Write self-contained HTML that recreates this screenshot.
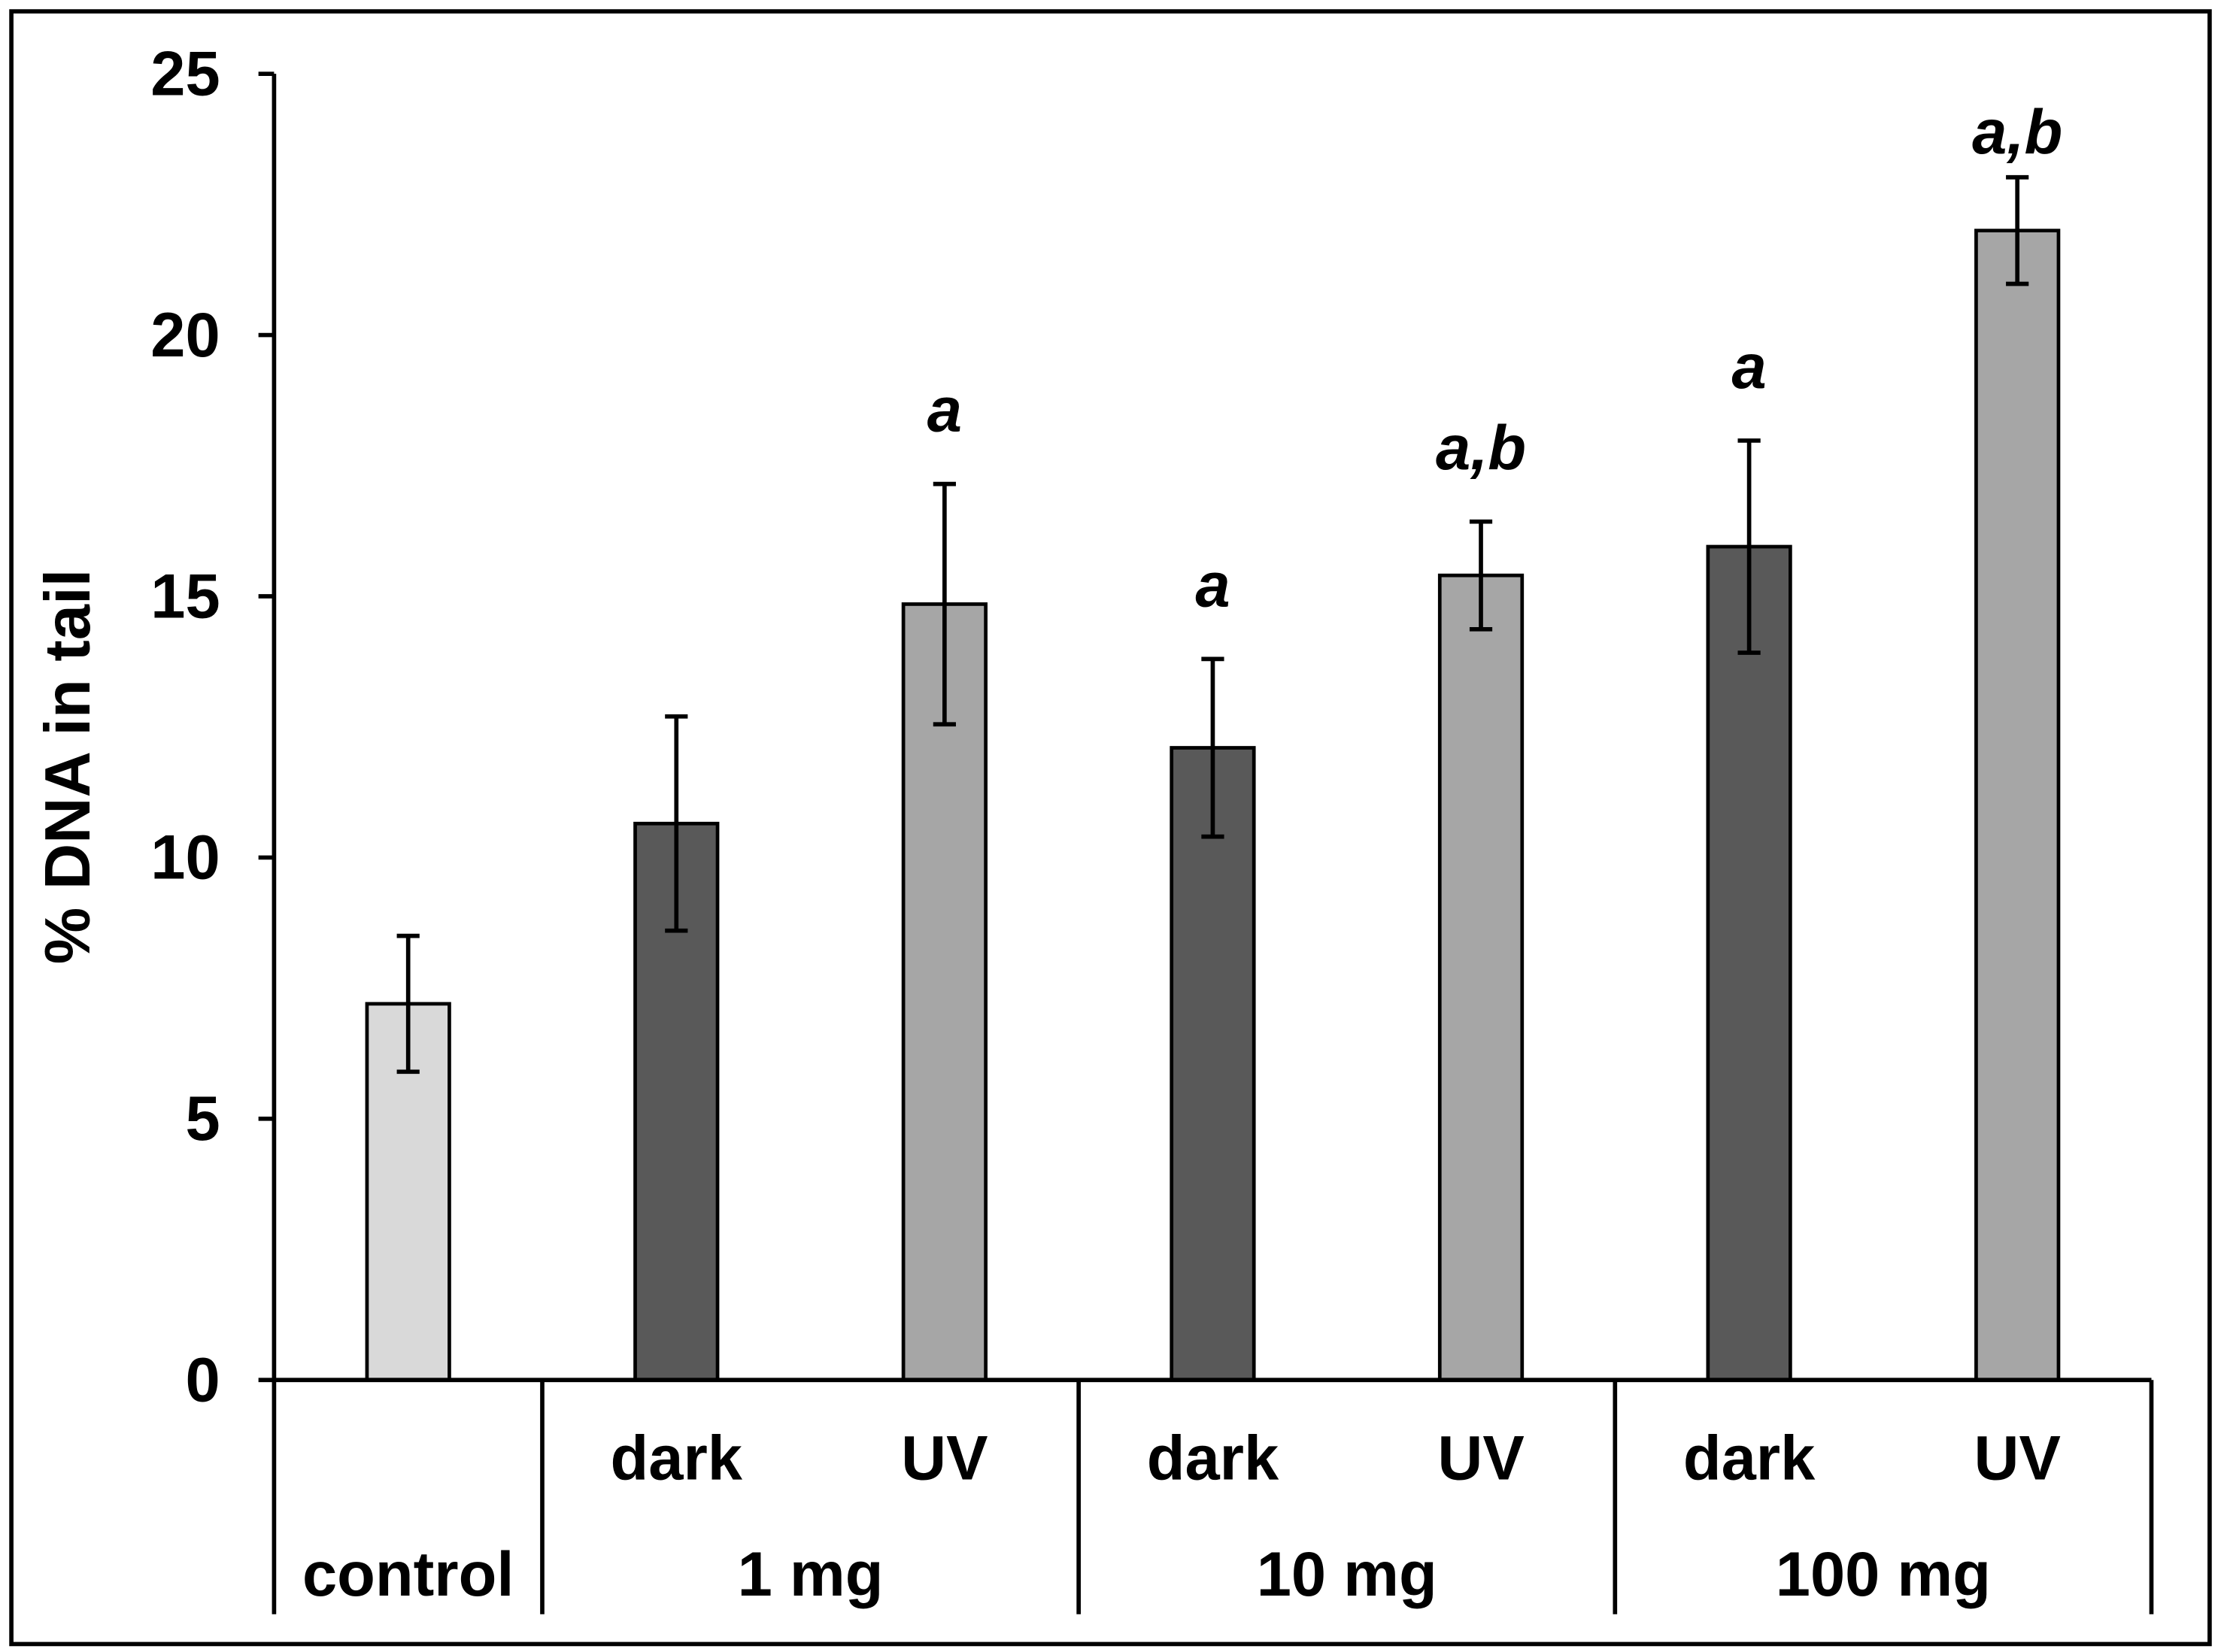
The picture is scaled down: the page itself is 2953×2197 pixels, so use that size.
<!DOCTYPE html>
<html><head><meta charset="utf-8"><style>
html,body{margin:0;padding:0;background:#fff;}
svg{display:block;}
text{font-family:"Liberation Sans",Arial,sans-serif;font-weight:bold;fill:#000;}
</style></head><body>
<svg id="chart" width="2953" height="2197" viewBox="0 0 1564 1163.6" preserveAspectRatio="none" xmlns="http://www.w3.org/2000/svg">
<rect x="8" y="8" width="1548" height="1150" fill="none" stroke="#000" stroke-width="3"/>
<g id="plot"></g>
</svg>
<script>
const categories = ["control","1mg-dark","1mg-UV","10mg-dark","10mg-UV","100mg-dark","100mg-UV"];
const values = [7.2, 10.65, 14.85, 12.1, 15.4, 15.95, 22.0];
const errors = [1.3, 2.05, 2.3, 1.7, 1.03, 2.03, 1.02];
const kinds = ["control","dark","UV","dark","UV","dark","UV"];
const sigLabels = ["", "", "a", "a", "a,b", "a", "a,b"];
const yTicks = [0,5,10,15,20,25];
const subLabels = ["", "dark", "UV", "dark", "UV", "dark", "UV"];
const groupLabels = ["control", "1 mg", "10 mg", "100 mg"];

const NS = "http://www.w3.org/2000/svg";
const g = document.getElementById('plot');
const x0 = 193, x1 = 1515, yBase = 972, yTop = 52, yMax = 25;
const y = v => yBase - (v / yMax) * (yBase - yTop);
const colW = (x1 - x0) / categories.length;
const xc = i => x0 + colW * (i + 0.5);
const colors = {control:"#d9d9d9", dark:"#595959", UV:"#a6a6a6"};
function mk(tag, attrs){const e=document.createElementNS(NS,tag);for(const k in attrs)e.setAttribute(k,attrs[k]);g.appendChild(e);return e;}

const ya = mk('line',{x1:x0,y1:y(yMax),x2:x0,y2:yBase,stroke:"#000","stroke-width":3});


yTicks.forEach(t=>{
  const tl = mk('line',{x1:x0-11,y1:y(t),x2:x0,y2:y(t),stroke:"#000","stroke-width":3});
  
  
  const tx = mk('text',{x:155,y:y(t)+15,"text-anchor":"end","font-size":44});
  tx.textContent = t;
  
  
});
const yt = mk('text',{x:0,y:0,"text-anchor":"middle","font-size":45,transform:"translate(63,540) rotate(-90)"});
yt.textContent = "% DNA in tail";



const bw = 58;
categories.forEach((c,i)=>{
  const b = mk('rect',{x:xc(i)-bw/2,y:y(values[i]),width:bw,height:yBase-y(values[i]),fill:colors[kinds[i]],stroke:"#000","stroke-width":2.5});
  
  
  const hi=y(values[i]+errors[i]), lo=y(values[i]-errors[i]);
  const e = mk('path',{d:`M${xc(i)},${hi}V${lo}M${xc(i)-8},${hi}H${xc(i)+8}M${xc(i)-8},${lo}H${xc(i)+8}`,stroke:"#000","stroke-width":3,fill:"none"});
  
  
  if(sigLabels[i]){
    const s = mk('text',{x:xc(i),y:Math.max(hi-37,108),"text-anchor":"middle","font-size":44,"font-style":"italic"});
    s.textContent = sigLabels[i];
    
    
  }
  if(subLabels[i]){
    const s = mk('text',{x:xc(i),y:1042,"text-anchor":"middle","font-size":44});
    s.textContent = subLabels[i];
    
    
  }
});
const xa = mk('line',{x1:x0,y1:yBase,x2:x1,y2:yBase,stroke:"#000","stroke-width":3});


const bounds = [0,1,3,5,7];
bounds.forEach(k=>{
  const xx = x0 + colW*k;
  const l = mk('line',{x1:xx,y1:yBase,x2:xx,y2:1137,stroke:"#000","stroke-width":3});
  
  
});
groupLabels.forEach((lab,j)=>{
  const cx = x0 + colW*(bounds[j]+bounds[j+1])/2;
  const t = mk('text',{x:cx,y:1124,"text-anchor":"middle","font-size":44});
  t.textContent = lab;
  
  
});
</script>
</body></html>
